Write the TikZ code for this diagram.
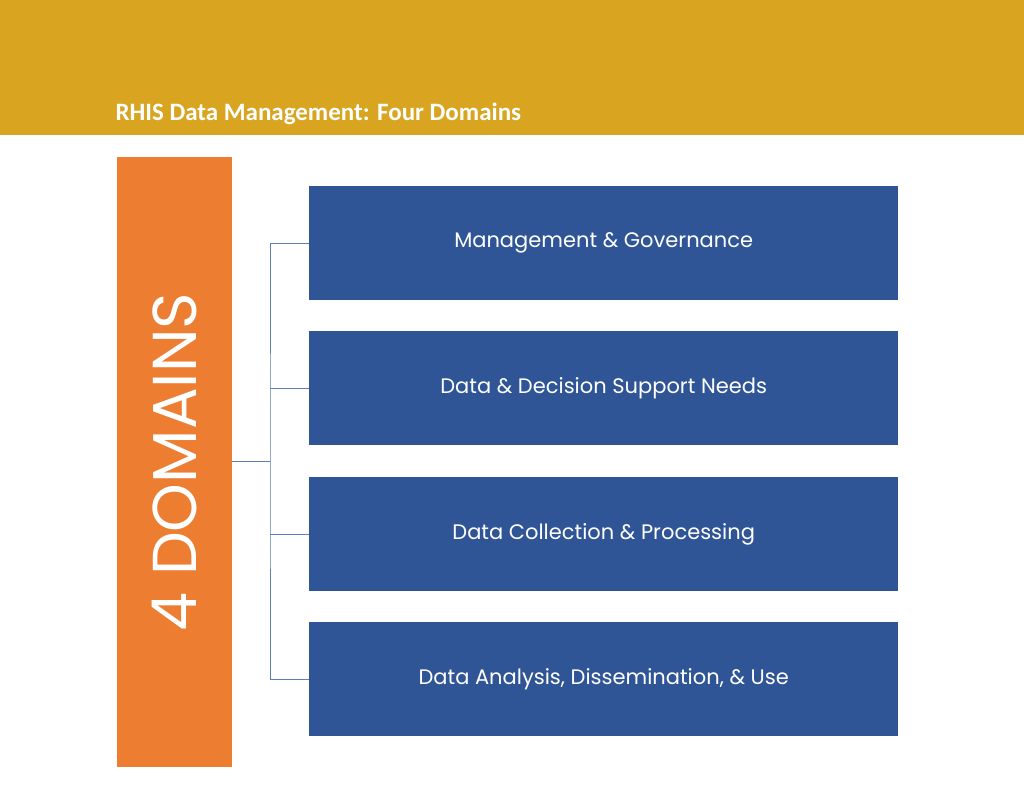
\documentclass[tikz,border=0pt]{standalone}
\usepackage{fontspec}
\setmainfont{Poppins}
\newfontfamily\titlefont{Carlito}
\begin{document}
\begin{tikzpicture}[x=1pt,y=-1pt,
  dombox/.style={fill=blueA,draw=none,minimum width=589pt,minimum height=114pt,anchor=north west,text=white,font=\fontsize{21}{25}\selectfont},
  conn/.style={draw=lineA,line width=0.8pt}]
\definecolor{goldA}{HTML}{D9A520}
\definecolor{orangeA}{HTML}{ED7D31}
\definecolor{blueA}{HTML}{2F5597}
\definecolor{lineA}{HTML}{5B7FB8}
\useasboundingbox (0,0) rectangle (1024,791);
\fill[white] (0,0) rectangle (1024,791);
\fill[goldA] (0,0) rectangle (1024,135);
\node[anchor=base west,text=white,font=\titlefont\bfseries\fontsize{25}{30}\selectfont] (title) at (112,121) {RHIS Data Management: Four Domains};
\node[fill=orangeA,minimum width=115pt,minimum height=610pt,anchor=north west,inner sep=0pt] (bar) at (117,157) {};
\node[rotate=90,text=white,font=\fontsize{62}{70}\selectfont] at (bar.center) {4 DOMAINS};
\node[dombox] (b1) at (309,186) {Management \& Governance};
\node[dombox] (b2) at (309,331) {Data \& Decision Support Needs};
\node[dombox] (b3) at (309,477) {Data Collection \& Processing};
\node[dombox] (b4) at (309,622) {Data Analysis, Dissemination, \& Use};
\coordinate (j) at (270,461);
\draw[conn] (bar.east |- j) -- (j);
\draw[conn] (b1.west) -| (j) |- (b4.west);
\draw[conn] (b2.west) -- (b2.west -| j);
\draw[conn] (b3.west) -- (b3.west -| j);
\end{tikzpicture}
\end{document}
